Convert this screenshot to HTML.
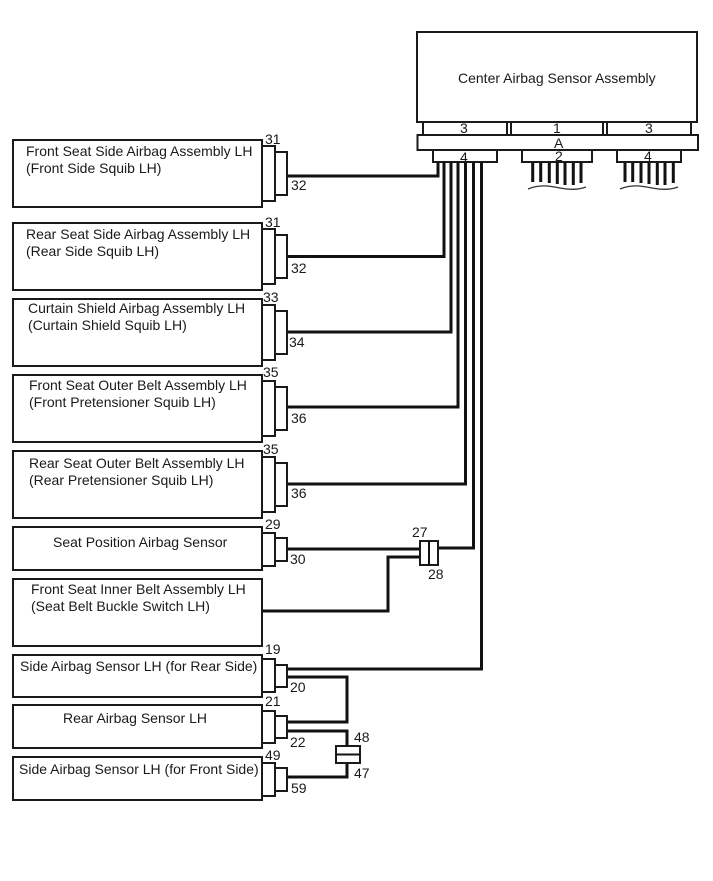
<!DOCTYPE html>
<html><head><meta charset="utf-8"><style>
html,body{margin:0;padding:0;background:#fff}
svg{display:block}
text{font-family:"Liberation Sans",Arial,sans-serif;font-size:14px;fill:#1a1a1a}
.b{fill:#fff;stroke:#1a1a1a;stroke-width:2}
.w{fill:none;stroke:#111;stroke-width:3}
.t{fill:none;stroke:#111;stroke-width:2}
</style></head><body>
<svg width="713" height="881" viewBox="0 0 713 881" xmlns="http://www.w3.org/2000/svg">
<!-- wires -->
<path class="w" d="M287 176H438V162M287 256.500H444V162M287 332H451V162M287 407H458V162M287 484H465.500V162M438 548H473.500V162M287 669H481.500V162"/>
<path class="w" d="M287 549H420M262 611H388V557H420"/>
<path class="w" d="M287 677H347V722H287M287 731H347V746M347 763V777H287"/>
<path class="w" d="M532.700 162V182M540.700 162V182M549.300 162V183M557.300 162V184M565 162V185M573.300 162V185M581 162V183M625 162V182M632.700 162V182M641 162V183M649 162V184M657.300 162V185M665 162V185M673.300 162V183"/>
<path fill="none" stroke="#333" stroke-width="1.300" d="M528 189C540 184 550 186 560 188S578 190 586 187M620 189C632 184 642 186 652 188S670 190 678 187"/>
<!-- center -->
<rect class="b" x="417" y="32" width="280" height="90"/>
<rect class="b" x="423" y="122" width="84" height="13"/>
<rect class="b" x="511" y="122" width="92" height="13"/>
<rect class="b" x="607" y="122" width="84" height="13"/>
<rect class="b" x="417.500" y="135" width="280.500" height="15"/>
<rect class="b" x="433" y="150" width="64" height="12"/>
<rect class="b" x="522" y="150" width="70" height="12"/>
<rect class="b" x="617" y="150" width="64" height="12"/>
<!-- boxes -->
<rect class="b" x="13" y="140" width="249" height="67"/>
<rect class="b" x="13" y="223" width="249" height="67"/>
<rect class="b" x="13" y="299" width="249" height="67"/>
<rect class="b" x="13" y="375" width="249" height="67"/>
<rect class="b" x="13" y="451" width="249" height="67"/>
<rect class="b" x="13" y="527" width="249" height="43"/>
<rect class="b" x="13" y="579" width="249" height="67"/>
<rect class="b" x="13" y="655" width="249" height="42"/>
<rect class="b" x="13" y="705" width="249" height="43"/>
<rect class="b" x="13" y="757" width="249" height="43"/>
<!-- plugs -->
<rect class="b" x="262" y="146" width="13" height="55"/><rect class="b" x="275" y="152" width="12" height="43"/>
<rect class="b" x="262" y="229" width="13" height="55"/><rect class="b" x="275" y="235" width="12" height="43"/>
<rect class="b" x="262" y="305" width="13" height="55"/><rect class="b" x="275" y="311" width="12" height="43"/>
<rect class="b" x="262" y="381" width="13" height="55"/><rect class="b" x="275" y="387" width="12" height="43"/>
<rect class="b" x="262" y="457" width="13" height="55"/><rect class="b" x="275" y="463" width="12" height="43"/>
<rect class="b" x="262" y="533" width="13" height="33"/><rect class="b" x="275" y="538" width="12" height="23"/>
<rect class="b" x="262" y="659" width="13" height="33"/><rect class="b" x="275" y="665" width="12" height="22"/>
<rect class="b" x="262" y="711" width="13" height="32"/><rect class="b" x="275" y="716" width="12" height="22"/>
<rect class="b" x="262" y="763" width="13" height="33"/><rect class="b" x="275" y="768" width="12" height="23"/>
<!-- inline connectors -->
<rect class="b" x="420" y="541" width="18" height="24"/><path class="t" d="M429 541V565"/>
<rect class="b" x="336" y="746" width="24" height="17"/><path class="t" d="M336 754.500H360"/>
<!-- labels -->
<text x="458" y="83">Center Airbag Sensor Assembly</text>
<text x="460" y="133">3</text><text x="553" y="133">1</text><text x="645" y="133">3</text>
<text x="554" y="148">A</text><text x="460" y="162">4</text><text x="555" y="161">2</text><text x="644" y="161">4</text>
<text x="26" y="156">Front Seat Side Airbag Assembly LH</text><text x="26" y="173">(Front Side Squib LH)</text>
<text x="26" y="239">Rear Seat Side Airbag Assembly LH</text><text x="26" y="256">(Rear Side Squib LH)</text>
<text x="28" y="313">Curtain Shield Airbag Assembly LH</text><text x="28" y="330">(Curtain Shield Squib LH)</text>
<text x="29" y="390">Front Seat Outer Belt Assembly LH</text><text x="29" y="407">(Front Pretensioner Squib LH)</text>
<text x="29" y="468">Rear Seat Outer Belt Assembly LH</text><text x="29" y="485">(Rear Pretensioner Squib LH)</text>
<text x="53" y="547">Seat Position Airbag Sensor</text>
<text x="31" y="594">Front Seat Inner Belt Assembly LH</text><text x="31" y="611">(Seat Belt Buckle Switch LH)</text>
<text x="20" y="671">Side Airbag Sensor LH (for Rear Side)</text>
<text x="63" y="723">Rear Airbag Sensor LH</text>
<text x="19" y="774">Side Airbag Sensor LH (for Front Side)</text>
<text x="265" y="144">31</text><text x="291" y="190">32</text>
<text x="265" y="227">31</text><text x="291" y="273">32</text>
<text x="263" y="302">33</text><text x="289" y="347">34</text>
<text x="263" y="377">35</text><text x="291" y="423">36</text>
<text x="263" y="454">35</text><text x="291" y="498">36</text>
<text x="265" y="529">29</text><text x="290" y="564">30</text>
<text x="412" y="537">27</text><text x="428" y="579">28</text>
<text x="265" y="654">19</text><text x="290" y="692">20</text>
<text x="265" y="706">21</text><text x="290" y="747">22</text>
<text x="265" y="760">49</text><text x="291" y="793">59</text>
<text x="354" y="742">48</text><text x="354" y="778">47</text>
</svg>
</body></html>
